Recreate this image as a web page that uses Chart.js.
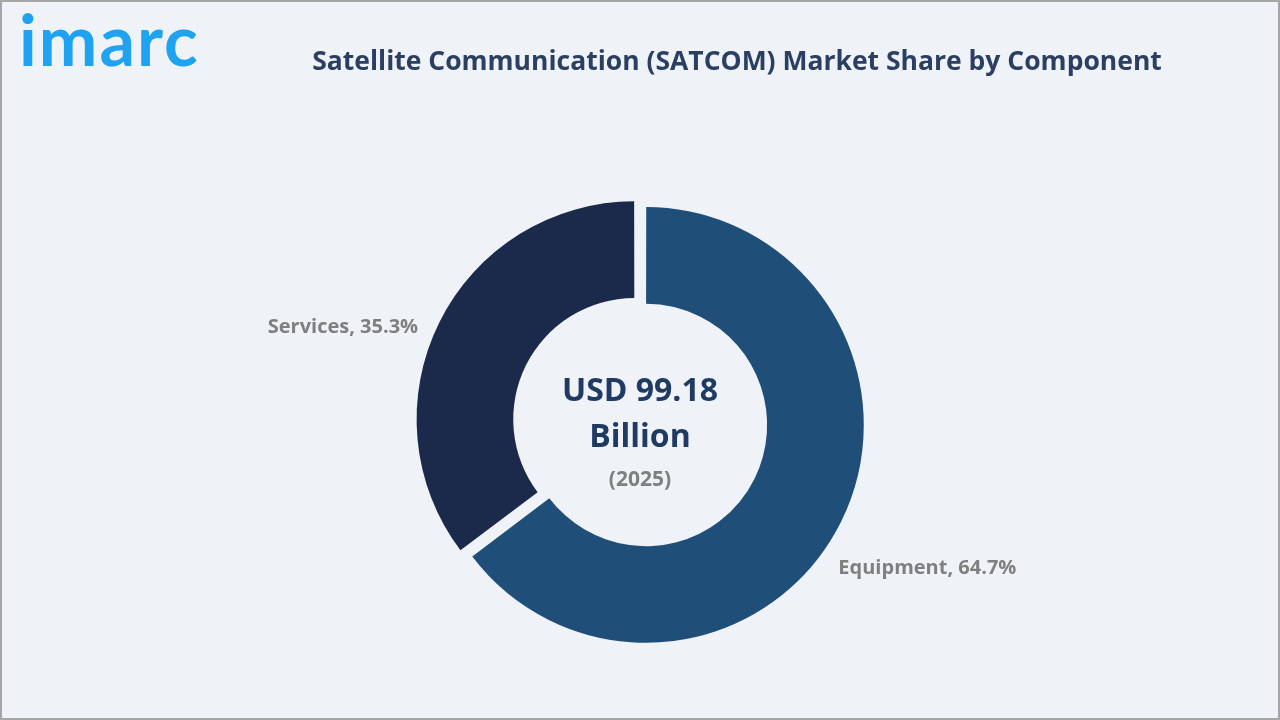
<!DOCTYPE html>
<html>
<head>
<meta charset="utf-8">
<script src="https://cdn.jsdelivr.net/npm/chart.js@4.4.1/dist/chart.umd.min.js"></script>
<style>
  html, body { margin: 0; padding: 0; background: #eff3f8; }
  #wrap { position: relative; width: 1280px; height: 720px; overflow: hidden; }
  #frame { position: absolute; left: 0; top: 0; width: 1280px; height: 720px; box-sizing: border-box;
           border: 2px solid #a6a6a6; pointer-events: none; }
  #chart1 { position: absolute; left: 0; top: 0; }
  #logo { position: absolute; left: 19px; top: -3px; font-family: Lato, sans-serif; font-weight: 700;
          font-size: 70px; color: #1fa3f0; letter-spacing: 2px; }
  #title { position: absolute; left: 300px; top: 42px; width: 874px; text-align: center;
           font-family: "Open Sans", sans-serif; font-weight: 700; font-size: 26.5px; color: #2b3f63; white-space: nowrap; }
</style>
</head>
<body>
<div id="wrap">
  <canvas id="chart1" width="1280" height="720"></canvas>
  <div id="logo">imarc</div>
  <div id="title">Satellite Communication (SATCOM) Market Share by Component</div>
  <div id="frame"></div>
</div>
<script>
var labels = ["Equipment", "Services"];
var shares = [64.7, 35.3];
var colors = ['#1f4e78', '#1b2a4b'];
var centerLines = ["USD 99.18", "Billion", "(2025)"];

// labels outside the slices
var sliceLabels = {
    id: 'sliceLabels',
    afterDatasetsDraw: function(chart) {
        var ctx = chart.ctx;
        var arcs = chart.getDatasetMeta(0).data;
        var tweak = [0, -0.142];
        var dist = [1.467, 1.47];
        ctx.save();
        ctx.font = 'bold 20px "Open Sans"';
        ctx.fillStyle = '#7f7f7f';
        ctx.textAlign = 'center';
        ctx.textBaseline = 'middle';
        arcs.forEach(function(arc, i) {
            var p = arc.getProps(['x', 'y', 'startAngle', 'endAngle', 'outerRadius']);
            var mid = (p.startAngle + p.endAngle) / 2 + tweak[i];
            var r = p.outerRadius * dist[i];
            ctx.fillText(labels[i] + ', ' + shares[i].toFixed(1) + '%', p.x + Math.cos(mid) * r, p.y + Math.sin(mid) * r + 3);
        });
        ctx.restore();
    }
};

// text in the hole
var centerText = {
    id: 'centerText',
    afterDraw: function(chart) {
        var ctx = chart.ctx;
        var arc = chart.getDatasetMeta(0).data[0];
        var cx = chart.width / 2, cy = arc.y;
        ctx.save();
        ctx.textAlign = 'center';
        ctx.textBaseline = 'middle';
        ctx.fillStyle = '#1f3a63';
        ctx.font = 'bold 32px "Open Sans"';
        ctx.fillText(centerLines[0], cx, cy - 32);
        ctx.fillText(centerLines[1], cx, cy + 14);
        ctx.fillStyle = '#7f7f7f';
        ctx.font = 'bold 21px "Open Sans"';
        ctx.fillText(centerLines[2], cx, cy + 56);
        ctx.restore();
    }
};

var ctx = document.getElementById("chart1").getContext('2d');
var chart = new Chart(ctx, {
    type: 'doughnut',
    data: {
        labels: labels,
        datasets: [{
            data: shares,
            backgroundColor: colors,
            borderWidth: 0,
            offset: [8.5, 42.5],
            hoverOffset: 0
        }]
    },
    options: {
        responsive: false,
        animation: false,
        cutout: '55.2%',
        layout: { padding: { top: 187, bottom: 59, left: 304, right: 296 } },
        plugins: {
            legend: { display: false },
            tooltip: { enabled: false }
        }
    },
    plugins: [sliceLabels, centerText]
});
</script>
</body>
</html>
